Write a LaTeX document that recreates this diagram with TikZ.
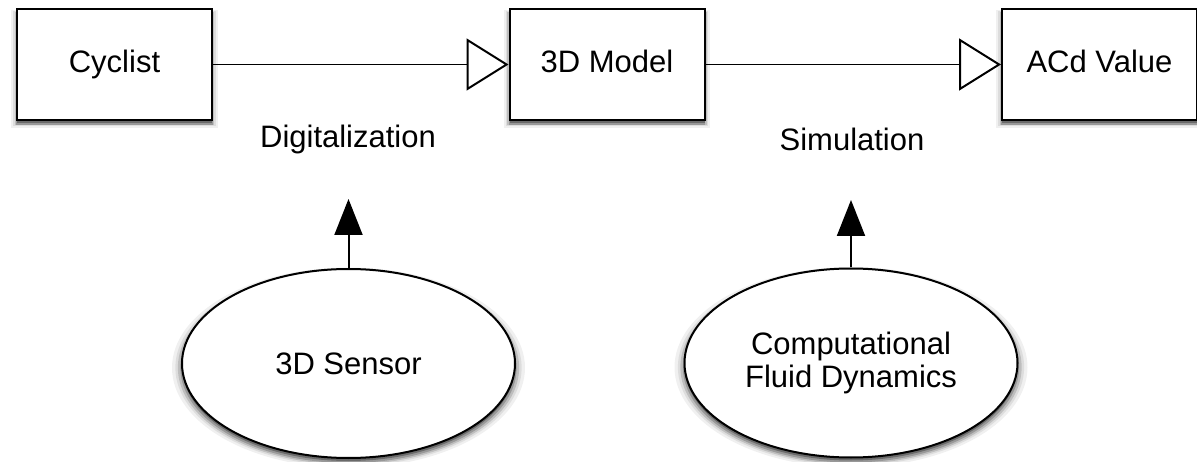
\documentclass[tikz,border=0pt]{standalone}
\usepackage{fontspec}
\setmainfont{Liberation Sans}
\usetikzlibrary{arrows.meta,shapes.geometric,shadows}
\begin{document}
\begin{tikzpicture}[x=1pt,y=-1pt,
  every node/.style={font=\fontsize{31}{33}\selectfont},
  shad/.style={
    general shadow={fill=black, opacity=.06, shadow yshift=-4pt, shadow scale=1.06},
    general shadow={fill=black, opacity=.08, shadow yshift=-4pt, shadow scale=1.04},
    general shadow={fill=black, opacity=.14, shadow yshift=-4pt, shadow scale=1.025},
    general shadow={fill=black, opacity=.2, shadow yshift=-4pt, shadow scale=1.01},
    general shadow={fill=black, opacity=.3, shadow yshift=-3pt, shadow scale=1.0}},
  boxnode/.style={draw, line width=2pt, fill=white, minimum width=195pt, minimum height=111pt, inner sep=0pt, text height=22pt, text depth=6pt, shad},
  ellnode/.style={draw, ellipse, line width=2pt, fill=white, minimum width=333pt, minimum height=189pt, inner sep=0pt, align=center, shad},
  openarrow/.style={line width=1.5pt, -{Triangle[open, length=42pt, width=52pt, line width=2pt]}},
  fillarrow/.style={line width=2pt, -{Triangle[length=36pt, width=28pt]}},
  lbl/.style={inner sep=0pt}]
\useasboundingbox (0,0) rectangle (1197,462);
\node[boxnode] (cyc) at (114.5,64.5) {Cyclist};
\node[boxnode] (model) at (607,64.5) {3D Model};
\node[boxnode] (acd) at (1099.5,64.5) {ACd Value};
\draw[openarrow] (cyc.east) -- (model.west);
\draw[openarrow] (model.east) -- (acd.west);
\node[lbl] (dig) at (348,139) {Digitalization};
\node[lbl] (sim) at (852,139) {Simulation};
\node[ellnode] (sensor) at (348.5,363.5) {3D Sensor};
\node[ellnode] (cfd) at (851,363) {Computational\\Fluid Dynamics};
\coordinate (dtip) at (348.5,199);
\coordinate (stip) at (851,200);
\draw[fillarrow] (sensor.north) -- (dtip);
\draw[fillarrow] (cfd.north) -- (stip);
\end{tikzpicture}
\end{document}
